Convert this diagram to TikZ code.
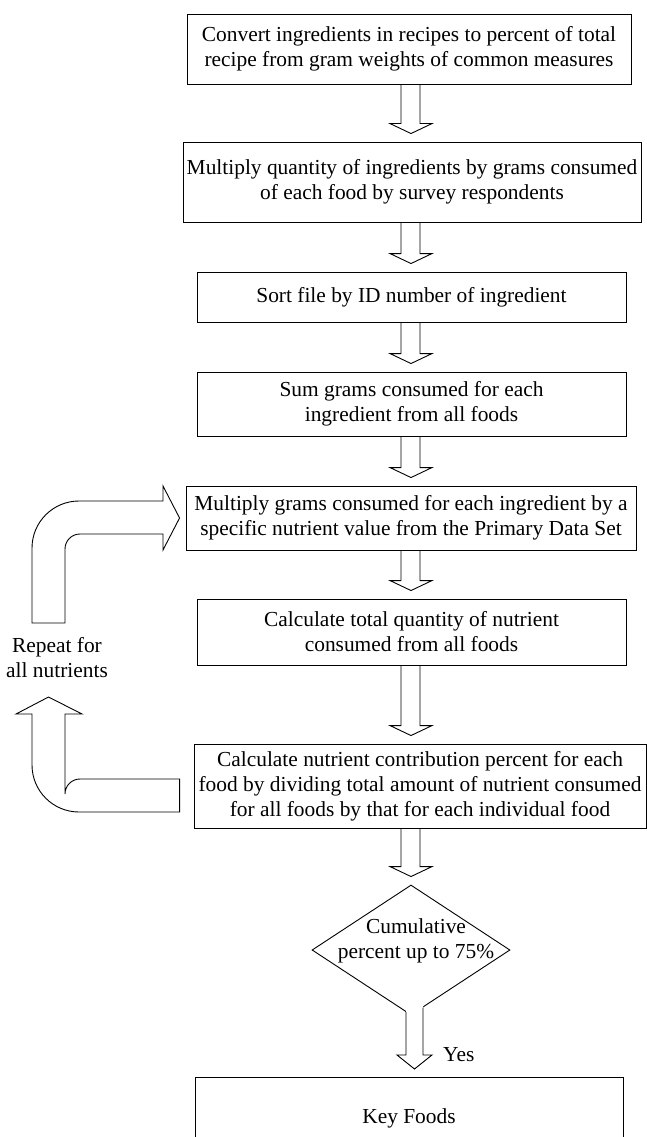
\documentclass[tikz,border=0pt]{standalone}
\usepackage{fontspec}
\setmainfont{Liberation Serif}
\usetikzlibrary{shapes.geometric,calc}
\tikzset{
  box/.style={draw, rectangle, line width=0.9pt, inner sep=0pt, align=center, font=\fontsize{21.4pt}{25pt}\selectfont},
  txt/.style={inner sep=0pt, align=center, font=\fontsize{21.4pt}{25pt}\selectfont},
  blk/.style={draw, line width=0.9pt, line join=miter},
}
\newcommand{\barrow}[2]{%
  \draw[blk] let \p1=(#1.south), \p2=(#2.north) in
    (401pt,\y1) -- (401pt,\y2+18pt) -- (390pt,\y2+18pt) -- (411pt,\y2+8pt)
    -- (432pt,\y2+18pt) -- (420pt,\y2+18pt) -- (420pt,\y1);}
\begin{document}
\begin{tikzpicture}[x=1pt,y=-1pt]
\useasboundingbox (0,0) rectangle (647,1137);
\clip (0,0) rectangle (647,1137);
\fill[white] (0,0) rectangle (647,1137);

\node[box, minimum width=444, minimum height=70] (b1) at (409,49)
  {Convert ingredients in recipes to percent of total\\recipe from gram weights of common measures};
\node[box, minimum width=458, minimum height=80] (b2) at (412,182)
  {Multiply quantity of ingredients by grams consumed\\of each food by survey respondents};
\node[box, minimum width=429, minimum height=50] (b3) at (411.5,297)
  {Sort file by ID number of ingredient};
\node[box, minimum width=429, minimum height=64] (b4) at (411.5,404)
  {Sum grams consumed for each\\ingredient from all foods};
\node[box, minimum width=450, minimum height=64] (b5) at (411,518)
  {Multiply grams consumed for each ingredient by a\\specific nutrient value from the Primary Data Set};
\node[box, minimum width=429, minimum height=66] (b6) at (411.5,632)
  {Calculate total quantity of nutrient\\consumed from all foods};
\node[box, minimum width=452, minimum height=84] (b7) at (420,786)
  {Calculate nutrient contribution percent for each\\food by dividing total amount of nutrient consumed\\for all foods by that for each individual food};
\node[draw, diamond, line width=0.9pt, inner sep=0pt, minimum width=198, minimum height=130] (dec) at (411,950) {};
\node[txt] (dectext) at (416,941) {Cumulative\\percent up to 75\%};
\node[box, minimum width=428, minimum height=82, anchor=north] (kf) at (409,1077) {Key Foods};

\barrow{b1}{b2}
\barrow{b2}{b3}
\barrow{b3}{b4}
\barrow{b4}{b5}
\barrow{b5}{b6}
\barrow{b6}{b7}
\barrow{b7}{dec}

% arrow from decision to Key Foods
\coordinate (sl) at (intersection of dec.west--dec.south and 406,900--406,1100);
\coordinate (sr) at (intersection of dec.east--dec.south and 423,900--423,1100);
\fill[white] let \p1=(kf.north) in (406,1000) -- (406pt,\y1+22pt) -- (397pt,\y1+22pt) -- (414.5pt,\y1+8pt)
  -- (432pt,\y1+22pt) -- (423pt,\y1+22pt) -- (423,1000) -- cycle;
\draw[blk] let \p1=(kf.north) in (sl) -- (406pt,\y1+22pt) -- (397pt,\y1+22pt) -- (414.5pt,\y1+8pt)
  -- (432pt,\y1+22pt) -- (423pt,\y1+22pt) -- (sr);
\node[txt, anchor=west] (yes) at (443,1055) {Yes};

% loop arrow into b5
\coordinate (t5) at ($(b5.west)+(-6,0)$);
\draw[blk] (32,623) -- (32,548) arc[start angle=180, end angle=270, radius=47]
  -- (163,501) -- (163,486) -- (t5) -- (163,550) -- (163,534) -- (80,534)
  arc[start angle=270, end angle=180, radius=15] -- (65,623) -- cycle;

% loop arrow from b7
\coordinate (s7) at ($(b7.west)+(-14,0)$);
\draw[blk] (s7 |- 0,779) -- (80,779) arc[start angle=270, end angle=180, radius=15]
  -- (65,714) -- (82,714) -- (48.5,697) -- (16,714) -- (32,714) -- (32,765)
  arc[start angle=180, end angle=90, radius=47] -- (s7 |- 0,812) -- cycle;

\node[txt] (rep) at (57,658) {Repeat for\\all nutrients};
\end{tikzpicture}
\end{document}
